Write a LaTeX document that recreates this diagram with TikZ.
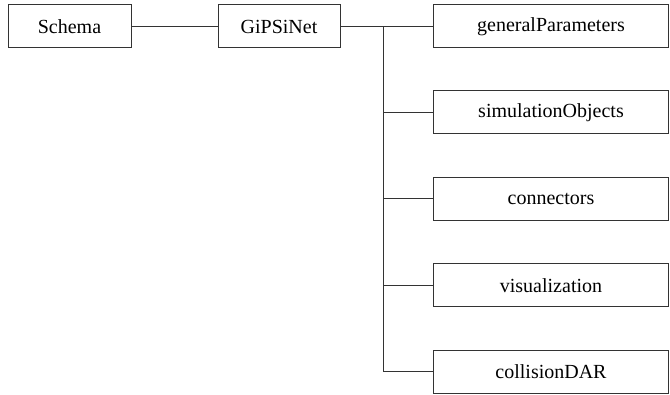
\documentclass[tikz,border=0pt]{standalone}
\usepackage{fontspec}
\setmainfont{Liberation Serif}
\usepackage{tikz}
\tikzset{schemabox/.style={draw=black!80, line width=.5pt, inner sep=0pt, minimum height=21.5pt},
	link/.style={draw=black!80, line width=.5pt}}

\begin{document}
\begin{tikzpicture}[x=.5pt, y=-.5pt]
	
	\useasboundingbox (0,0) rectangle (670,395);
	
	\node [schemabox, minimum width=61.5pt] (schema) at (69.5,26.5) {Schema};
	\node [schemabox, minimum width=61pt] (gipsinet) at (279,26.5) {GiPSiNet};
	
	\node [schemabox, minimum width=117.5pt] (general) at (551,26.5) {generalParameters};
	\node [schemabox, minimum width=117.5pt] (simobj) at (551,112.5) {simulationObjects};
	\node [schemabox, minimum width=117.5pt] (conn) at (551,199) {connectors};
	\node [schemabox, minimum width=117.5pt] (vis) at (551,285.5) {visualization};
	\node [schemabox, minimum width=117.5pt] (coll) at (551,372) {collisionDAR};
	
	\coordinate (bus) at (383,26.5);
	
	\draw [link] (schema) -- (gipsinet);
	\draw [link] (gipsinet) -- (general);
	\draw [link] (bus) |- (coll.west);
	\draw [link] (bus |- simobj.west) -- (simobj.west);
	\draw [link] (bus |- conn.west) -- (conn.west);
	\draw [link] (bus |- vis.west) -- (vis.west);
	
\end{tikzpicture}
\end{document}
